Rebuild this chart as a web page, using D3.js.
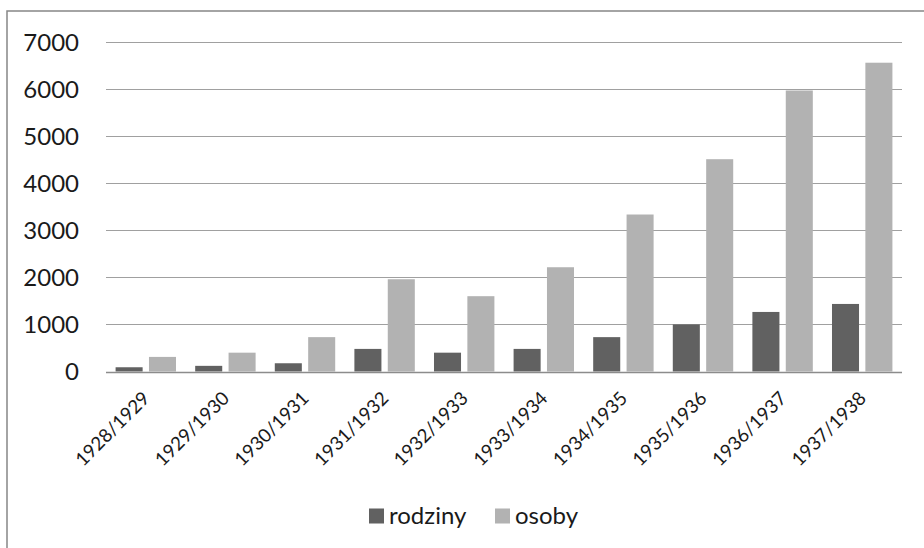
<!DOCTYPE html>
<html>
<head>
<meta charset="utf-8">
<script src="https://cdn.jsdelivr.net/npm/d3@7"></script>
<style>
  html, body { margin: 0; padding: 0; background: #fff; }
  svg { display: block; font-family: Lato, "Open Sans", sans-serif; }
</style>
</head>
<body>
<svg id="chart" width="924" height="548"></svg>
<script>
// School years
const categories = ["1928/1929", "1929/1930", "1930/1931", "1931/1932", "1932/1933",
                    "1933/1934", "1934/1935", "1935/1936", "1936/1937", "1937/1938"];
// Families
const rodziny = [90, 120, 175, 480, 400, 480, 730, 1000, 1265, 1435];
// Persons
const osoby = [310, 400, 730, 1960, 1600, 2215, 3335, 4510, 5970, 6560];
const seriesNames = ["rodziny", "osoby"];
const seriesColors = ["#616161", "#b2b2b2"];
const yTicks = [0, 1000, 2000, 3000, 4000, 5000, 6000, 7000];

const svg = d3.select("#chart");
const plot = { left: 106, right: 902, top: 42, bottom: 371.5 };

// Outer frame (extends past the visible area on the right and bottom)
svg.append("rect")
  .attr("x", 7).attr("y", 11)
  .attr("width", 1000).attr("height", 1000)
  .attr("fill", "none").attr("stroke", "#878787").attr("stroke-width", 1.5);

const y = d3.scaleLinear().domain([0, 7000]).range([plot.bottom, plot.top]);
const x0 = d3.scaleBand().domain(categories).range([plot.left, plot.right])
  .paddingInner(0.241).paddingOuter(0.1205);
const x1 = d3.scaleBand().domain(seriesNames).range([0, x0.bandwidth()])
  .paddingInner(0.19);

// Horizontal gridlines
svg.append("g").selectAll("line")
  .data(yTicks.filter(d => d > 0))
  .join("line")
  .attr("x1", plot.left).attr("x2", plot.right)
  .attr("y1", d => Math.round(y(d)) + 0.5).attr("y2", d => Math.round(y(d)) + 0.5)
  .attr("stroke", "#a0a0a0").attr("stroke-width", 1);

// Y-axis labels
svg.append("g").selectAll("text")
  .data(yTicks)
  .join("text")
  .attr("x", 79).attr("y", d => y(d))
  .attr("dy", "0.36em")
  .attr("text-anchor", "end")
  .attr("font-size", 24)
  .attr("fill", "#1a1a1a")
  .text(d => d);

// Bars
const rows = categories.map((c, i) => ({ cat: c, values: [rodziny[i], osoby[i]] }));
const groups = svg.append("g").selectAll("g")
  .data(rows)
  .join("g")
  .attr("transform", d => `translate(${x0(d.cat)},0)`);
groups.selectAll("rect")
  .data(d => d.values.map((v, k) => ({ key: seriesNames[k], v, k })))
  .join("rect")
  .attr("x", d => x1(d.key))
  .attr("y", d => y(d.v))
  .attr("width", x1.bandwidth())
  .attr("height", d => y(0) - y(d.v))
  .attr("fill", d => seriesColors[d.k]);

// Baseline
svg.append("line")
  .attr("x1", plot.left).attr("x2", plot.right)
  .attr("y1", Math.round(y(0)) + 0.5).attr("y2", Math.round(y(0)) + 0.5)
  .attr("stroke", "#8c8c8c").attr("stroke-width", 1.5);

// Rotated category labels
svg.append("g").selectAll("text")
  .data(categories)
  .join("text")
  .attr("text-anchor", "end")
  .attr("font-size", 18.8)
  .attr("fill", "#1a1a1a")
  .attr("transform", d => `translate(${x0(d) + x0.bandwidth() / 2 + 5},${plot.bottom + 28}) rotate(-45)`)
  .text(d => d);

// Legend
const legend = svg.append("g");
const legendItems = [
  { name: "rodziny", color: seriesColors[0], x: 369 },
  { name: "osoby", color: seriesColors[1], x: 495 }
];
legendItems.forEach(it => {
  legend.append("rect")
    .attr("x", it.x).attr("y", 508.5)
    .attr("width", 15).attr("height", 15)
    .attr("fill", it.color);
  legend.append("text")
    .attr("x", it.x + 20).attr("y", 523.5)
    .attr("font-size", 24)
    .attr("fill", "#1a1a1a")
    .text(it.name);
});
</script>
</body>
</html>
